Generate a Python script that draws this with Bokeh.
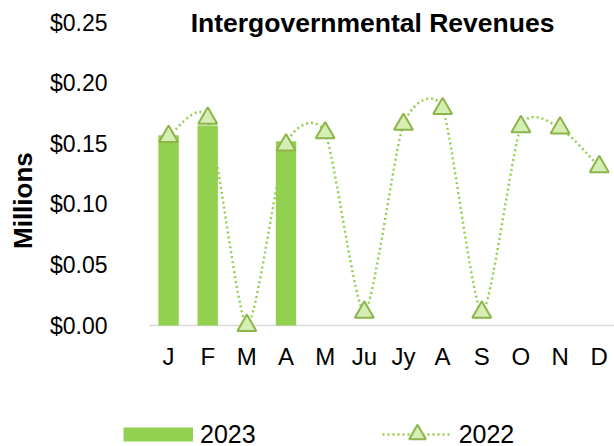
from bokeh.plotting import figure
from bokeh.models import (ColumnDataSource, Range1d, Legend, LegendItem, Label,
                          FixedTicker)
from bokeh.core.properties import value
from bokeh.embed import file_html
from bokeh.resources import INLINE

# ---- data ----
months = ["J", "F", "M", "A", "M", "Ju", "Jy", "A", "S", "O", "N", "D"]
rev_2023 = [0.157, 0.165, 0.0, 0.152]
rev_2022 = [0.156, 0.171, 0.0, 0.149, 0.159, 0.011, 0.166, 0.179, 0.011, 0.164, 0.163, 0.131]
y_ticks = [0.0, 0.05, 0.10, 0.15, 0.20, 0.25]
y_tick_labels = ["$0.00", "$0.05", "$0.10", "$0.15", "$0.20", "$0.25"]
title_text = "Intergovernmental Revenues"
y_title = "Millions"
series_names = ["2023", "2022"]
baseline = 0.0

BAR = "#92D050"
MK_FILL = "#D5EEB3"
MK_LINE = "#8DB44B"
AXIS_GREY = "#D9D9D9"
FONT = "Liberation Sans"
SMOOTH = 1.0 / 9.0   # curve tension used for the smoothed 2022 line
NAN = float("nan")

p = figure(width=614, height=446, output_backend="svg", toolbar_location=None,
           x_axis_location=None,
           x_range=Range1d(-1.151, 11.39), y_range=Range1d(-0.0998, 0.2583),
           min_border_left=123, min_border_right=0, min_border_top=12,
           min_border_bottom=0)
p.outline_line_color = None
p.grid.visible = False

xs = list(range(len(months)))

# category baseline (from first to last category slot)
p.segment(x0=[-0.5], y0=[baseline], x1=[len(months) - 0.5], y1=[baseline],
          line_color=AXIS_GREY, line_width=1.5)

# month labels under the baseline
p.text(x=xs, y=[baseline] * len(months), text=months, y_offset=31,
       text_align="center", text_baseline="middle", text_font=value(FONT),
       text_font_size="24px", text_color="black")

# bars 2023
bx = list(range(len(rev_2023)))
bar_r = p.vbar(x=bx, top=rev_2023, width=0.52, fill_color=BAR, line_color=None)

# smoothed dotted line for 2022 (cardinal-spline bezier through the points)
n = len(rev_2022)
seg = dict(x0=[], y0=[], x1=[], y1=[], cx0=[], cy0=[], cx1=[], cy1=[])
for i in range(n - 1):
    pm = i - 1 if i > 0 else 0
    pp = i + 2 if i + 2 < n else n - 1
    seg["x0"].append(xs[i]); seg["y0"].append(rev_2022[i])
    seg["x1"].append(xs[i + 1]); seg["y1"].append(rev_2022[i + 1])
    seg["cx0"].append(xs[i] + (xs[i + 1] - xs[pm]) * SMOOTH)
    seg["cy0"].append(rev_2022[i] + (rev_2022[i + 1] - rev_2022[pm]) * SMOOTH)
    seg["cx1"].append(xs[i + 1] - (xs[pp] - xs[i]) * SMOOTH)
    seg["cy1"].append(rev_2022[i + 1] - (rev_2022[pp] - rev_2022[i]) * SMOOTH)
p.bezier(source=ColumnDataSource(seg), x0="x0", y0="y0", x1="x1", y1="y1",
         cx0="cx0", cy0="cy0", cx1="cx1", cy1="cy1",
         line_color=BAR, line_width=2.5, line_dash="2 3")
mk_r = p.scatter(x=xs, y=rev_2022, marker="triangle", size=19,
                 fill_color=MK_FILL, line_color=MK_LINE, line_width=2)

# legend-only glyphs (a single undrawable point each)
leg_bar = p.line(x=[NAN], y=[NAN], line_color=BAR, line_width=14, line_cap="butt")
leg_line = p.line(x=[NAN], y=[NAN], line_color=BAR, line_width=2.5, line_dash="2 3")

# y axis
ax = p.yaxis[0]
ax.axis_line_color = None
ax.major_tick_line_color = None
ax.minor_tick_line_color = None
ax.major_tick_out = 0
ax.major_tick_in = 0
ax.minor_tick_out = 0
ax.minor_tick_in = 0
ax.ticker = FixedTicker(ticks=y_ticks)
ax.major_label_overrides = {t: l for t, l in zip(y_ticks, y_tick_labels)}
ax.major_label_standoff = 16
ax.major_label_text_font = FONT
ax.major_label_text_font_size = "23px"
ax.major_label_text_color = "black"
ax.axis_label = "\u00a0" * 8 + y_title
ax.axis_label_text_font = FONT
ax.axis_label_text_font_style = "bold"
ax.axis_label_text_font_size = "26px"
ax.axis_label_text_color = "black"
ax.axis_label_standoff = 9

# title
p.add_layout(Label(x=5.21, y=0.2495, text=title_text, text_align="center",
                   text_baseline="middle", text_font=FONT, text_font_style="bold",
                   text_font_size="26.5px", text_color="black"))

# legend at the bottom
leg = Legend(items=[LegendItem(label=series_names[0], renderers=[leg_bar]),
                    LegendItem(label=series_names[1], renderers=[leg_line, mk_r])],
             location=(0, -9), orientation="horizontal",
             glyph_width=70, glyph_height=42, label_standoff=7, spacing=126,
             label_text_font=FONT, label_text_font_size="25px",
             label_text_color="black",
             border_line_color=None, background_fill_alpha=0,
             padding=0, margin=0)
p.add_layout(leg)

open("out.html", "w").write(file_html(p, INLINE))
